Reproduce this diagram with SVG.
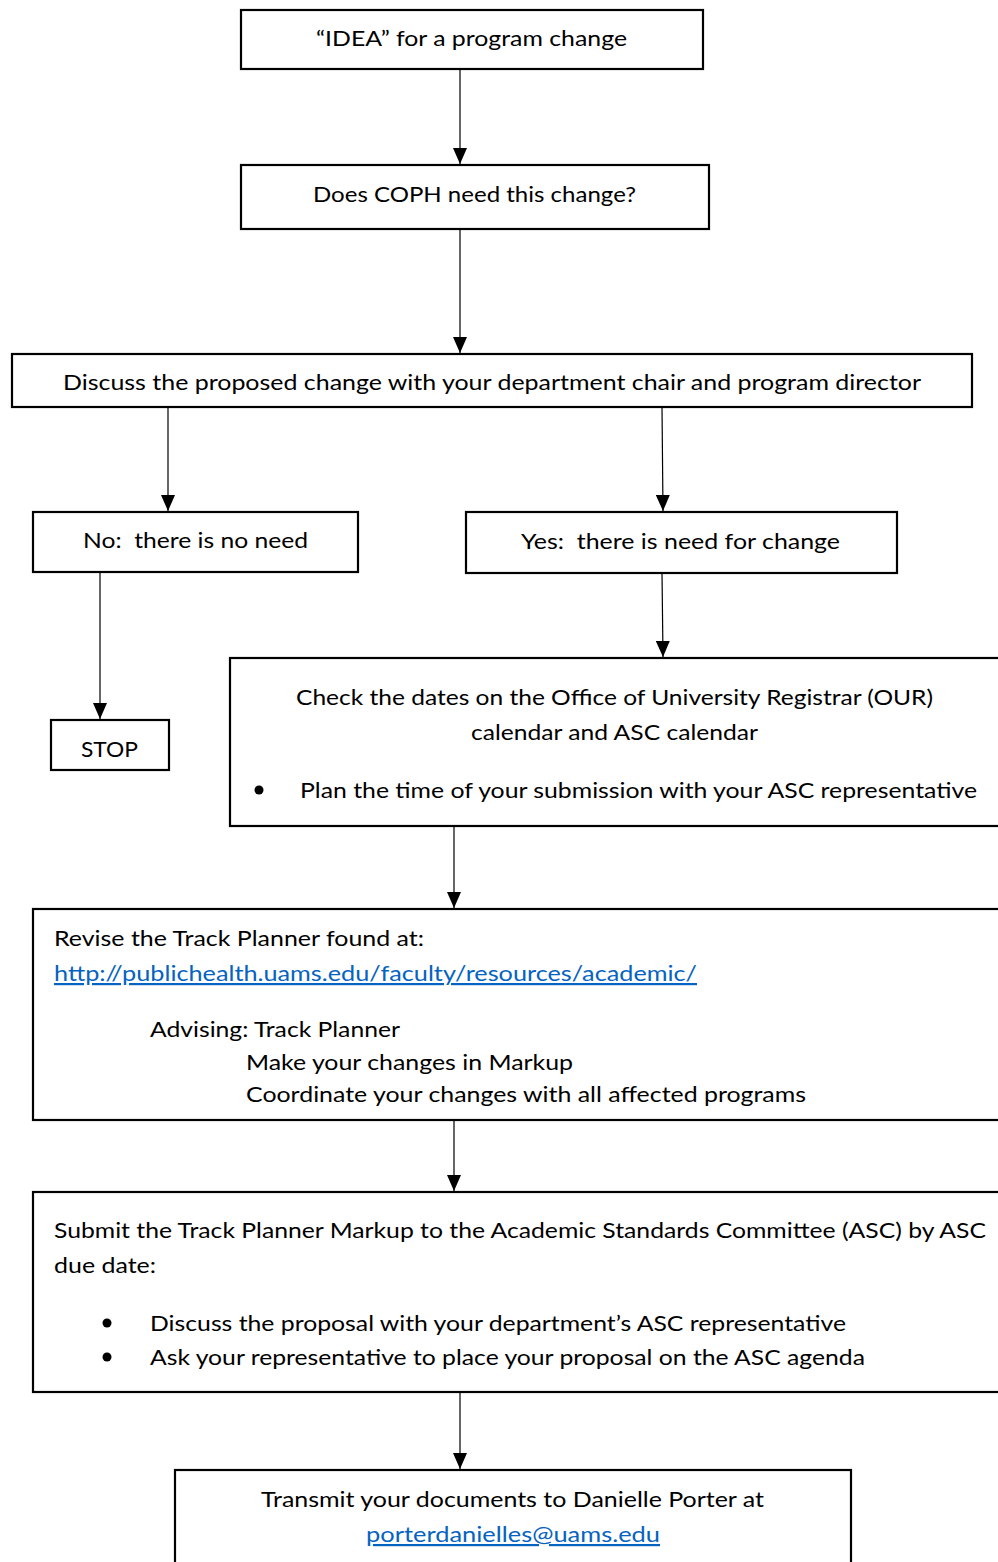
<svg xmlns="http://www.w3.org/2000/svg" width="998" height="1562" viewBox="0 0 998 1562">
<style>
.box{fill:#fff;stroke:#000;stroke-width:2.2}
.t{font-family:Lato,"Open Sans","Liberation Sans",sans-serif;font-size:22px;fill:#000;white-space:pre}
.lnk{fill:#0563C1;text-decoration:underline}
.c{stroke:#000;stroke-width:1.2;fill:none}
</style>
<defs>
<marker id="ah" markerUnits="userSpaceOnUse" markerWidth="16" markerHeight="14" refX="16" refY="7" orient="auto" viewBox="0 0 16 14">
<path d="M0,0 L16,7 L0,14 z" fill="#000"/>
</marker>
</defs>
<rect width="998" height="1562" fill="#fff"/>
<g id="connectors">
<line class="c" x1="460" y1="69" x2="460" y2="164" marker-end="url(#ah)"/>
<line class="c" x1="460" y1="229" x2="460" y2="353" marker-end="url(#ah)"/>
<line class="c" x1="168" y1="407" x2="168" y2="511" marker-end="url(#ah)"/>
<line class="c" x1="662" y1="407" x2="663" y2="511" marker-end="url(#ah)"/>
<line class="c" x1="100" y1="572" x2="100" y2="719" marker-end="url(#ah)"/>
<line class="c" x1="662" y1="573" x2="663" y2="657" marker-end="url(#ah)"/>
<line class="c" x1="454" y1="826" x2="454" y2="908" marker-end="url(#ah)"/>
<line class="c" x1="454" y1="1120" x2="454" y2="1191" marker-end="url(#ah)"/>
<line class="c" x1="460" y1="1392" x2="460" y2="1469" marker-end="url(#ah)"/>
</g>
<g id="n1">
<rect class="box" x="241" y="10" width="462" height="59"/>
<text class="t" x="316" y="46" textLength="311" lengthAdjust="spacingAndGlyphs">“IDEA” for a program change</text>
</g>
<g id="n2">
<rect class="box" x="241" y="165" width="468" height="64"/>
<text class="t" x="313" y="202" textLength="323" lengthAdjust="spacingAndGlyphs">Does COPH need this change?</text>
</g>
<g id="n3">
<rect class="box" x="12" y="354" width="960" height="53"/>
<text class="t" x="63" y="390" textLength="858" lengthAdjust="spacingAndGlyphs">Discuss the proposed change with your department chair and program director</text>
</g>
<g id="n4">
<rect class="box" x="33" y="512" width="325" height="60"/>
<text class="t" x="83" y="548" textLength="225" lengthAdjust="spacingAndGlyphs" xml:space="preserve">No:  there is no need</text>
</g>
<g id="n5">
<rect class="box" x="466" y="512" width="431" height="61"/>
<text class="t" x="521" y="549" textLength="319" lengthAdjust="spacingAndGlyphs" xml:space="preserve">Yes:  there is need for change</text>
</g>
<g id="n6">
<rect class="box" x="51" y="720" width="118" height="50"/>
<text class="t" x="81" y="757" textLength="57" lengthAdjust="spacingAndGlyphs">STOP</text>
</g>
<g id="n7">
<rect class="box" x="230" y="658" width="790" height="168"/>
<text class="t" x="296" y="705" textLength="637" lengthAdjust="spacingAndGlyphs">Check the dates on the Office of University Registrar (OUR)</text>
<text class="t" x="471" y="740" textLength="287" lengthAdjust="spacingAndGlyphs">calendar and ASC calendar</text>
<circle cx="259" cy="790" r="4.5" fill="#000"/>
<text class="t" x="300" y="798" textLength="677" lengthAdjust="spacingAndGlyphs">Plan the time of your submission with your ASC representative</text>
</g>
<g id="n8">
<rect class="box" x="33" y="909" width="990" height="211"/>
<text class="t" x="54" y="946" textLength="370" lengthAdjust="spacingAndGlyphs">Revise the Track Planner found at:</text>
<text class="t lnk" x="54" y="981" textLength="643" lengthAdjust="spacingAndGlyphs">http://publichealth.uams.edu/faculty/resources/academic/</text>
<text class="t" x="150" y="1037" textLength="250" lengthAdjust="spacingAndGlyphs">Advising: Track Planner</text>
<text class="t" x="246" y="1070" textLength="327" lengthAdjust="spacingAndGlyphs">Make your changes in Markup</text>
<text class="t" x="246" y="1102" textLength="560" lengthAdjust="spacingAndGlyphs">Coordinate your changes with all affected programs</text>
</g>
<g id="n9">
<rect class="box" x="33" y="1192" width="990" height="200"/>
<text class="t" x="54" y="1238" textLength="932" lengthAdjust="spacingAndGlyphs">Submit the Track Planner Markup to the Academic Standards Committee (ASC) by ASC</text>
<text class="t" x="54" y="1273" textLength="102" lengthAdjust="spacingAndGlyphs">due date:</text>
<circle cx="107" cy="1323" r="4.5" fill="#000"/>
<text class="t" x="150" y="1331" textLength="696" lengthAdjust="spacingAndGlyphs">Discuss the proposal with your department’s ASC representative</text>
<circle cx="107" cy="1357" r="4.5" fill="#000"/>
<text class="t" x="150" y="1365" textLength="715" lengthAdjust="spacingAndGlyphs">Ask your representative to place your proposal on the ASC agenda</text>
</g>
<g id="n10">
<rect class="box" x="175" y="1470" width="676" height="110"/>
<text class="t" x="261" y="1507" textLength="503" lengthAdjust="spacingAndGlyphs">Transmit your documents to Danielle Porter at</text>
<text class="t lnk" x="366" y="1542" textLength="294" lengthAdjust="spacingAndGlyphs">porterdanielles@uams.edu</text>
</g>
</svg>
